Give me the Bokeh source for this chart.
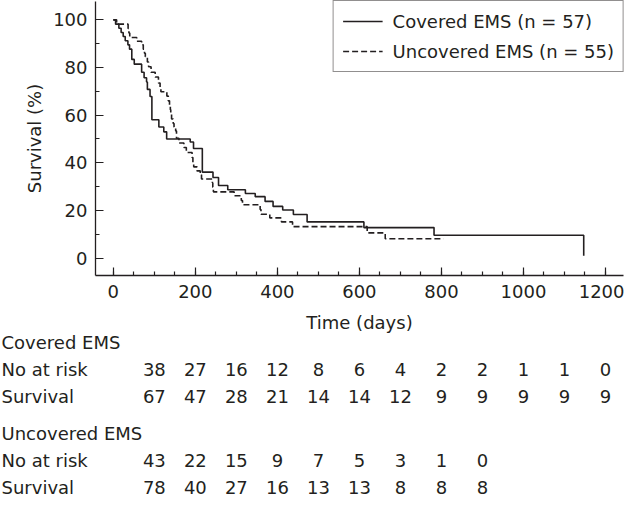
from bokeh.plotting import figure
from bokeh.models import Range1d, SingleIntervalTicker, Legend, LegendItem, LinearAxis
from bokeh.embed import file_html
from bokeh.resources import INLINE
from bokeh.core.properties import value

# ---------------- data ----------------
covered_t = [0, 5.5, 13.5, 19, 24, 29, 35.5, 39.5, 45, 51, 69, 75, 81, 83, 89.5, 94,
             111, 123, 130, 187.5, 195.5, 217, 243, 256.5, 279, 322, 346, 370, 389.5,
             413, 439, 472.5, 611, 782, 1147]
covered_s = [100, 98.2, 96.5, 94.7, 93.0, 91.2, 89.5, 87.7, 83.4, 81.4, 78.0, 75.7, 73.9,
             70.8, 67.8, 58.1, 55.0, 53.0, 50.0, 48.7, 46.0, 36.1, 33.8, 30.5, 28.7, 27.1,
             25.8, 23.8, 21.7, 20.2, 18.3, 15.2, 12.8, 9.6, 1.0]

uncovered_t = [0, 8, 36, 38, 40, 57, 69, 73, 76, 78, 83, 86, 92, 102, 110, 114, 116, 130.5,
               134, 137, 139, 140, 142, 146, 148, 152, 154, 160, 172, 178, 192, 194, 196,
               204, 212, 215, 241.5, 242.5, 244, 294.5, 312, 315, 358, 360, 381.5, 410,
               437, 619, 663, 805]
uncovered_s = [100, 98.2, 96.4, 94.5, 92.6, 91.0, 89.5, 87.7, 86.0, 84.5, 82.3, 80.3, 78.0,
               76.0, 73.5, 71.5, 69.8, 68.0, 66.0, 64.0, 62.3, 60.3, 58.4, 56.5, 55.0, 53.4,
               50.3, 48.3, 46.4, 44.3, 42.2, 40.2, 38.3, 36.6, 35.0, 33.2, 31.6, 29.8, 27.8,
               26.2, 24.2, 22.4, 20.4, 18.4, 16.9, 15.2, 13.2, 10.6, 8.1, 8.1]

series_labels = ["Covered EMS (n = 57)", "Uncovered EMS (n = 55)"]

table_times = [100, 200, 300, 400, 500, 600, 700, 800, 900, 1000, 1100, 1200]
covered_at_risk = [38, 27, 16, 12, 8, 6, 4, 2, 2, 1, 1, 0]
covered_survival = [67, 47, 28, 21, 14, 14, 12, 9, 9, 9, 9, 9]
uncovered_at_risk = [43, 22, 15, 9, 7, 5, 3, 1, 0]
uncovered_survival = [78, 40, 27, 16, 13, 13, 8, 8, 8]
row_labels = ["Covered EMS", "No at risk", "Survival",
              "Uncovered EMS", "No at risk", "Survival"]

# ---------------- layout / style ----------------
FONT = "DejaVu Sans"
INK = "#231f20"
W, H = 624, 504
AX_LEFT, AX_RIGHT = 95, 623      # pixel columns of the time axis ends
AX_TOP, AX_BOTTOM = 1, 275       # pixel rows of the survival axis ends
X0, X1 = -43.5, 1244             # time axis extent (days)
Y0, Y1 = -7.3, 107.7             # survival axis extent (%)

xscale = (AX_RIGHT - AX_LEFT) / (X1 - X0)
yscale = (AX_BOTTOM - AX_TOP) / (Y1 - Y0)
x_range = Range1d(X0 - AX_LEFT / xscale, X1 + (W - AX_RIGHT) / xscale)
y_range = Range1d(Y0 - (H - AX_BOTTOM) / yscale, Y1 + AX_TOP / yscale)

p = figure(width=W, height=H, x_range=x_range, y_range=y_range,
           output_backend="svg", toolbar_location=None,
           x_axis_location=None, y_axis_location=None,
           min_border_left=0, min_border_right=0, min_border_top=0, min_border_bottom=0)
p.outline_line_color = None
p.xgrid.visible = False
p.ygrid.visible = False

r1 = p.step(covered_t, covered_s, mode="after", line_color=INK, line_width=1.6)
r2 = p.step(uncovered_t, uncovered_s, mode="after", line_color=INK, line_width=1.6,
            line_dash="6 3")

xaxis = LinearAxis(ticker=SingleIntervalTicker(interval=200, num_minor_ticks=4),
                   axis_label="Time (days)", fixed_location=Y0, bounds=(X0, X1))
yaxis = LinearAxis(ticker=SingleIntervalTicker(interval=20, num_minor_ticks=2),
                   axis_label="Survival (%)", fixed_location=X0, bounds=(Y0, Y1))
for ax in (xaxis, yaxis):
    ax.major_tick_in = 8
    ax.major_tick_out = 0
    ax.minor_tick_in = 4
    ax.minor_tick_out = 0
    ax.axis_line_color = INK
    ax.axis_line_width = 1.3
    ax.major_tick_line_color = INK
    ax.major_tick_line_width = 1.2
    ax.minor_tick_line_color = INK
    ax.minor_tick_line_width = 1.2
    ax.major_label_text_font = FONT
    ax.major_label_text_font_size = "18px"
    ax.major_label_text_color = INK
    ax.axis_label_text_font = FONT
    ax.axis_label_text_font_size = "18px"
    ax.axis_label_text_font_style = "normal"
    ax.axis_label_text_color = INK
xaxis.major_label_standoff = 9
xaxis.axis_label_standoff = 11
yaxis.major_label_standoff = 8
yaxis.axis_label_standoff = 5
p.add_layout(xaxis, "below")
p.add_layout(yaxis, "left")

legend = Legend(items=[LegendItem(label=series_labels[0], renderers=[r1]),
                       LegendItem(label=series_labels[1], renderers=[r2])],
                location="top_right")
legend.margin = 0
legend.padding = 9
legend.spacing = 8
legend.glyph_width = 40
legend.glyph_height = 22
legend.label_height = 22
legend.label_standoff = 10
legend.border_line_color = INK
legend.border_line_width = 1.2
legend.background_fill_color = "white"
legend.background_fill_alpha = 1
legend.label_text_font = FONT
legend.label_text_font_size = "18px"
legend.label_text_color = INK
p.add_layout(legend)

# ---------------- number-at-risk table below the time axis ----------------
ROW_FIRST = 67      # px below the time axis
ROW_PITCH = 27
GROUP_GAP = 10
row_y = []
for g in range(2):
    for k in range(3):
        px = ROW_FIRST + g * (3 * ROW_PITCH + GROUP_GAP) + k * ROW_PITCH
        row_y.append(Y0 - px / yscale)

style = dict(text_font=value(FONT), text_font_size="18px", text_color=INK,
             text_baseline="middle")
label_x = x_range.start + 1 / xscale
p.text(x=[label_x] * len(row_labels), y=row_y, text=row_labels, text_align="left", **style)

xs, ys, ts = [], [], []
for vals, yy in [(covered_at_risk, row_y[1]), (covered_survival, row_y[2]),
                 (uncovered_at_risk, row_y[4]), (uncovered_survival, row_y[5])]:
    xs += table_times[:len(vals)]
    ys += [yy] * len(vals)
    ts += [str(v) for v in vals]
p.text(x=xs, y=ys, text=ts, text_align="center", **style)

open("out.html", "w").write(file_html(p, INLINE))
